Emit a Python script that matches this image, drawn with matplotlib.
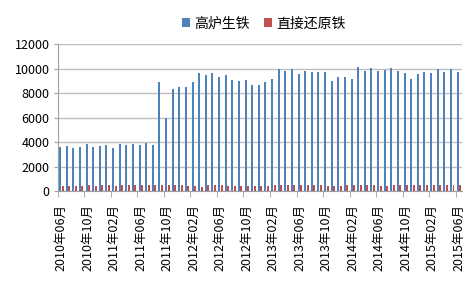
import numpy as np
import matplotlib
matplotlib.use('Agg')
import matplotlib.pyplot as plt
from matplotlib.ticker import FixedLocator

plt.rcParams['font.family'] = ['Noto Sans CJK SC', 'DejaVu Sans']

# 月份：2010年06月 - 2015年06月
meses = []
ano, mes = 2010, 6
for _ in range(61):
    meses.append(f"{ano}年{mes:02d}月")
    mes += 1
    if mes > 12:
        mes = 1
        ano += 1

# 高炉生铁
gaolu = [3600, 3680, 3520, 3570, 3820, 3630, 3680, 3760, 3520, 3850,
         3740, 3850, 3740, 3900, 3790, 8920, 5950, 8320, 8480, 8480,
         8920, 9650, 9440, 9600, 9350, 9440, 9080, 8970, 9080, 8670,
         8670, 8940, 9140, 9980, 9790, 9980, 9570, 9790, 9740, 9710,
         9740, 9000, 9350, 9350, 9110, 10120, 9840, 10040, 9780, 9880,
         10040, 9780, 9670, 9110, 9520, 9720, 9620, 9950, 9700, 9950,
         9720]

# 直接还原铁
huanyuan = [430, 430, 430, 430, 490, 440, 490, 490, 430, 520,
            490, 490, 540, 540, 540, 490, 520, 490, 470, 440,
            420, 360, 490, 500, 470, 440, 440, 430, 440, 440,
            440, 440, 490, 500, 490, 470, 480, 530, 480, 480,
            430, 430, 440, 470, 470, 480, 480, 470, 440, 440,
            480, 500, 480, 480, 480, 480, 470, 480, 520, 480,
            480]

x = np.arange(len(meses))

fig = plt.figure(figsize=(4.75, 2.84), dpi=100)
ax = fig.add_axes([0.122, 0.327, 0.851, 0.518])

ax.bar(x - 0.19, gaolu, width=0.3, color='#4F81BD', label='高炉生铁', zorder=3)
ax.bar(x + 0.19, huanyuan, width=0.3, color='#C0504D', label='直接还原铁', zorder=3)

ax.set_xlim(-0.5, len(meses) - 0.5)
ax.set_ylim(0, 12000)
ax.set_yticks(range(0, 12001, 2000))
ax.yaxis.grid(True, color='#bfbfbf', linewidth=1, zorder=0)
ax.tick_params(axis='y', labelsize=9, length=3, color='#a0a0a0', pad=3)

ax.set_xticks(x[::4])
ax.set_xticklabels(meses[::4], rotation=90, fontsize=9)
ax.xaxis.set_minor_locator(FixedLocator(np.arange(-0.5, len(meses), 4)))
ax.tick_params(axis='x', which='major', length=0, pad=9)
ax.tick_params(axis='x', which='minor', length=4, color='#a0a0a0')

for lado in ['top', 'right']:
    ax.spines[lado].set_visible(False)
for lado in ['left', 'bottom']:
    ax.spines[lado].set_color('#a0a0a0')

fig.legend(loc='upper center', bbox_to_anchor=(0.555, 0.985), ncol=2, frameon=False,
           fontsize=10, handlelength=0.6, handleheight=0.6, handletextpad=0.3,
           columnspacing=1.0)

plt.savefig('out.png', dpi=100)
